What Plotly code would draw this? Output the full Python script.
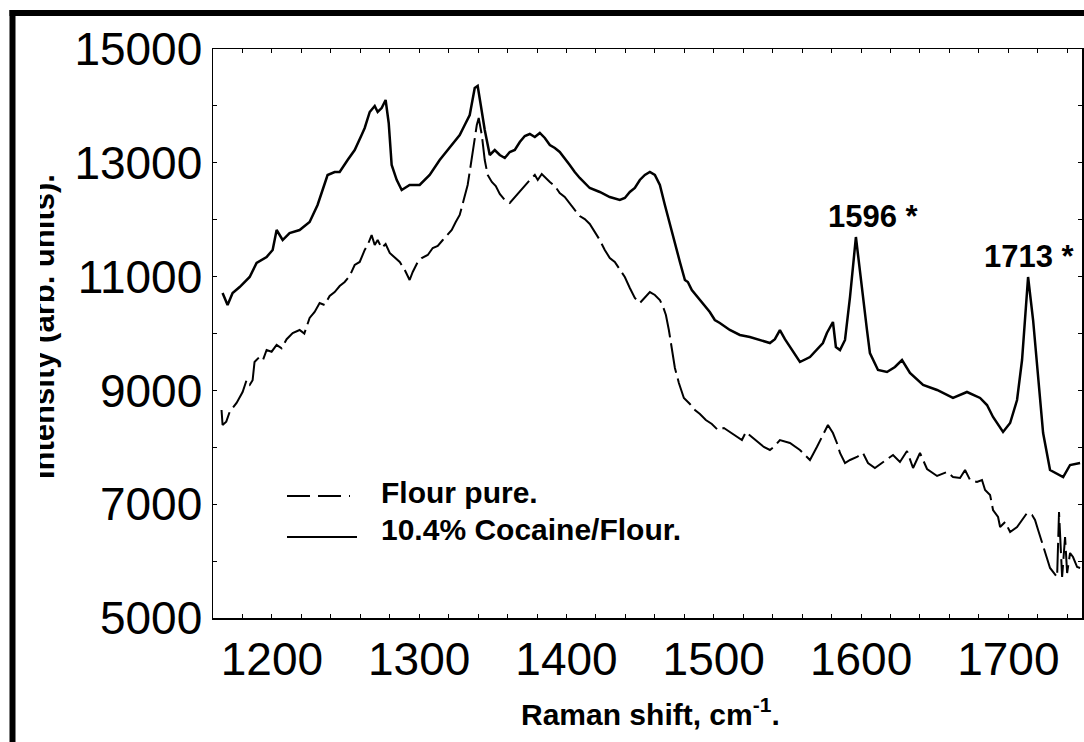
import plotly.graph_objects as go

# ---------------- data (Raman shift in cm^-1, intensity in arb. units) ----------------
flour_shift = [
    1165.8, 1166.5, 1169.0, 1171.3, 1176.0, 1180.1, 1182.8, 1185.0, 1186.9, 1188.2,
    1191.6, 1194.0, 1196.4, 1199.8, 1203.2, 1206.6, 1210.0, 1214.1, 1218.8, 1222.0,
    1225.6, 1229.0, 1232.4, 1235.8, 1239.2, 1242.6, 1246.0, 1249.4, 1252.8, 1256.2,
    1259.6, 1263.0, 1265.0, 1267.7, 1269.8, 1271.8, 1274.5, 1277.2, 1280.0, 1283.4,
    1286.8, 1290.2, 1293.5, 1295.6, 1299.0, 1301.7, 1305.8, 1309.2, 1312.6, 1316.0,
    1319.4, 1322.1, 1324.8, 1327.5, 1330.2, 1332.9, 1335.0, 1337.0, 1339.1, 1340.4,
    1342.5, 1344.5, 1346.5, 1349.3, 1352.0, 1354.7, 1358.1, 1361.5, 1364.9, 1368.3,
    1371.7, 1375.1, 1378.5, 1380.5, 1383.2, 1385.9, 1388.7, 1392.1, 1395.4, 1398.8,
    1402.2, 1405.6, 1409.0, 1412.4, 1415.8, 1419.2, 1422.6, 1426.0, 1429.4, 1432.8,
    1436.2, 1439.6, 1443.0, 1446.4, 1449.8, 1453.2, 1456.6, 1460.0, 1463.4, 1465.4,
    1467.5, 1469.5, 1471.5, 1473.6, 1476.3, 1479.7, 1483.8, 1487.2, 1490.6, 1494.6,
    1498.7, 1502.8, 1506.9, 1510.9, 1515.0, 1519.1, 1521.8, 1525.9, 1530.0, 1534.0,
    1538.1, 1541.5, 1544.9, 1551.7, 1558.5, 1565.3, 1570.0, 1573.4, 1577.5, 1580.9,
    1583.6, 1585.7, 1589.1, 1592.5, 1597.2, 1601.3, 1604.7, 1609.4, 1614.9, 1621.7,
    1626.4, 1631.2, 1635.3, 1640.0, 1644.8, 1651.6, 1658.4, 1662.4, 1667.2, 1670.6,
    1674.0, 1678.7, 1682.1, 1684.2, 1687.6, 1689.6, 1693.0, 1694.4, 1697.8, 1701.2,
    1705.9, 1709.3, 1712.7, 1716.1, 1718.1, 1720.2, 1722.9, 1726.3, 1728.3, 1733.1,
    1734.4, 1736.5, 1738.5, 1739.9, 1741.9, 1743.9, 1746.7, 1748.7,
]
flour_intensity = [
    8656, 8392, 8450, 8620, 8780, 8970, 9180, 9100, 9180, 9500,
    9590, 9540, 9710, 9680, 9800, 9740, 9900, 10009, 10062, 10000,
    10273, 10378, 10536, 10501, 10659, 10729, 10835, 10905, 11011, 11204,
    11257, 11468, 11555, 11731, 11555, 11643, 11503, 11573, 11415, 11327,
    11257, 11116, 10940, 11081, 11257, 11327, 11380, 11503, 11538, 11643,
    11731, 11819, 11960, 12083, 12346, 12610, 12961, 13313, 13664, 13788,
    13489, 13049, 12786, 12663, 12592, 12452, 12346, 12294, 12399, 12487,
    12592, 12698, 12786, 12698, 12803, 12733, 12663, 12592, 12469, 12399,
    12276, 12171, 12065, 12012, 11925, 11784, 11643, 11468, 11327, 11257,
    11116, 10993, 10800, 10624, 10536, 10642, 10729, 10677, 10589, 10483,
    10325, 10062, 9745, 9394, 9130, 8867, 8761, 8656, 8585, 8480,
    8410, 8304, 8339, 8269, 8199, 8128, 8269, 8181, 8093, 8005,
    7953, 8023, 8128, 8076, 7953, 7777, 8005, 8181, 8392, 8251,
    8076, 7900, 7724, 7777, 7830, 7900, 7724, 7636, 7742, 7865,
    7742, 7935, 7636, 7900, 7619, 7496, 7566, 7478, 7461, 7601,
    7425, 7390, 7425, 7250, 7162, 6898, 6775, 6599, 6687, 6511,
    6599, 6722, 6845, 6810, 6722, 6547, 6318, 6072, 5879, 5721,
    6863, 5721, 6424, 5791, 6142, 6072, 5896, 5879,
]

cocaine_shift = [
    1166.5, 1169.9, 1173.3, 1178.1, 1184.9, 1189.6, 1196.4, 1200.5, 1203.2, 1207.3,
    1212.0, 1218.8, 1225.6, 1231.0, 1234.4, 1237.8, 1242.6, 1246.0, 1251.4, 1256.2,
    1260.9, 1263.0, 1266.4, 1269.8, 1271.8, 1274.5, 1277.2, 1279.3, 1281.3, 1284.7,
    1288.1, 1293.5, 1300.3, 1307.1, 1313.9, 1320.7, 1327.5, 1330.9, 1334.3, 1337.7,
    1339.7, 1341.8, 1344.5, 1347.9, 1351.3, 1354.7, 1358.1, 1361.5, 1364.9, 1368.3,
    1371.7, 1375.1, 1378.5, 1381.9, 1385.3, 1388.7, 1392.1, 1395.4, 1398.8, 1402.2,
    1405.6, 1409.0, 1415.8, 1422.6, 1429.4, 1436.2, 1439.6, 1443.0, 1446.4, 1449.8,
    1453.2, 1456.6, 1460.0, 1463.4, 1466.8, 1470.2, 1473.6, 1477.0, 1480.4, 1482.4,
    1485.1, 1490.6, 1494.0, 1497.3, 1500.7, 1504.1, 1510.9, 1517.7, 1524.5, 1531.3,
    1538.1, 1541.5, 1544.9, 1548.3, 1551.7, 1558.5, 1565.3, 1574.1, 1576.8, 1580.9,
    1582.9, 1585.7, 1589.1, 1592.5, 1596.5, 1600.6, 1604.0, 1606.0, 1611.5, 1617.6,
    1623.0, 1627.8, 1633.2, 1642.1, 1651.6, 1662.4, 1671.9, 1680.8, 1685.5, 1689.6,
    1696.4, 1701.2, 1705.9, 1709.3, 1713.4, 1716.8, 1720.2, 1723.6, 1728.3, 1737.2,
    1741.9, 1748.7,
]
cocaine_intensity = [
    10712, 10501, 10712, 10817, 10993, 11239, 11345, 11468, 11819, 11643,
    11766, 11819, 11960, 12258, 12522, 12786, 12838, 12838, 13049, 13225,
    13489, 13612, 13893, 13998, 13893, 13963, 14104, 13700, 12961, 12700,
    12522, 12610, 12610, 12786, 13049, 13260, 13489, 13664, 13840, 14315,
    14350, 14016, 13577, 13137, 13225, 13137, 13085, 13190, 13225, 13366,
    13471, 13506, 13454, 13524, 13436, 13313, 13260, 13190, 13085, 12961,
    12838, 12733, 12557, 12487, 12399, 12346, 12382, 12487, 12557, 12698,
    12786, 12838, 12786, 12610, 12258, 11907, 11555, 11257, 10940, 10905,
    10765, 10589, 10483, 10378, 10237, 10185, 10062, 9974, 9939, 9886,
    9833, 9900, 10060, 9900, 9763, 9499, 9587, 9833, 10009, 10202,
    9763, 9710, 9886, 10642, 11696, 10765, 10062, 9657, 9359, 9323,
    9411, 9534, 9306, 9095, 9007, 8867, 8972, 8867, 8743, 8533,
    8269, 8427, 8831, 9534, 10993, 10237, 9183, 8251, 7601, 7478,
    7689, 7724,
]

x_range = [1160, 1750]
y_range = [5000, 15000]
legend_labels = ["Flour pure.", "10.4% Cocaine/Flour."]
peak_labels = ["1596 *", "1713 *"]
peak_label_x = [1608.1, 1714.6]
peak_label_y = [12065, 11362]
x_title = "Raman shift, cm<sup>-1</sup>."
y_title = "Intensity (arb. units)."

FONT = "Liberation Sans, Arial, sans-serif"

# ---------------- layout geometry (pixels on the 1084x742 page) ----------------
W, H = 1084, 742
L, R, T, B = 213, 1082, 49, 618


def px(xp):
    return (xp - L) / (R - L)


def py(yp):
    return (B - yp) / (B - T)


fig = go.Figure()
fig.add_trace(go.Scatter(
    x=flour_shift, y=flour_intensity, mode="lines",
    line=dict(color="black", width=2, dash="30px,6px"),
    name=legend_labels[0], showlegend=False, hoverinfo="skip",
))
fig.add_trace(go.Scatter(
    x=cocaine_shift, y=cocaine_intensity, mode="lines",
    line=dict(color="black", width=2.5),
    name=legend_labels[1], showlegend=False, hoverinfo="skip",
))

axis_common = dict(
    showgrid=False, zeroline=False, showline=True, linecolor="black",
    linewidth=1.5, mirror="allticks", ticks="inside", ticklen=4,
    tickwidth=1, tickcolor="black", tickformat="d",
    tickfont=dict(family=FONT, size=46, color="black"),
    automargin=False,
)

fig.update_layout(
    width=W, height=H,
    margin=dict(l=L, r=W - R, t=T, b=H - B, pad=0),
    paper_bgcolor="white", plot_bgcolor="white",
    showlegend=False,
    xaxis=dict(range=x_range, tick0=1200, dtick=100, ticklabelstandoff=0,
               minor=dict(dtick=20, ticks="inside", ticklen=4,
                          tickcolor="black", tickwidth=1, showgrid=False),
               **axis_common),
    yaxis=dict(range=y_range, tick0=5000, dtick=2000, ticklabelstandoff=0,
               minor=dict(dtick=1000, ticks="inside", ticklen=4,
                          tickcolor="black", tickwidth=1, showgrid=False),
               **axis_common),
)

shapes = [
    # outer frame: top and left thick bars
    dict(type="rect", xref="paper", yref="paper", x0=px(9.5), x1=px(1090),
         y0=py(16), y1=py(10), fillcolor="black", line=dict(width=0)),
    dict(type="rect", xref="paper", yref="paper", x0=px(9.5), x1=px(15.5),
         y0=py(750), y1=py(10), fillcolor="black", line=dict(width=0)),
    # legend samples
    dict(type="line", xref="paper", yref="paper", x0=px(287), x1=px(350),
         y0=py(496), y1=py(496), line=dict(color="black", width=2, dash="23px,8px")),
    dict(type="line", xref="paper", yref="paper", x0=px(287), x1=px(357),
         y0=py(537), y1=py(537), line=dict(color="black", width=2)),
]
fig.update_layout(shapes=shapes)

bold = dict(family=FONT, size=30, color="black")
annotations = [
    dict(text="<b>%s</b>" % legend_labels[0], xref="paper", yref="paper",
         x=px(379), y=py(492), xanchor="left", yanchor="middle",
         showarrow=False, font=bold),
    dict(text="<b>%s</b>" % legend_labels[1], xref="paper", yref="paper",
         x=px(379), y=py(529), xanchor="left", yanchor="middle",
         showarrow=False, font=bold),
    dict(text="<b>%s</b>" % peak_labels[0], xref="x", yref="y",
         x=peak_label_x[0], y=peak_label_y[0], xanchor="center", yanchor="middle",
         showarrow=False, font=dict(family=FONT, size=31, color="black")),
    dict(text="<b>%s</b>" % peak_labels[1], xref="x", yref="y",
         x=peak_label_x[1], y=peak_label_y[1], xanchor="center", yanchor="middle",
         showarrow=False, font=dict(family=FONT, size=31, color="black")),
    dict(text="<b>%s</b>" % x_title, xref="paper", yref="paper",
         x=px(650), y=py(712), xanchor="center", yanchor="middle",
         showarrow=False, font=bold),
    dict(text="<b>%s</b>" % y_title, xref="paper", yref="paper",
         x=px(43), y=py(327), xanchor="center", yanchor="middle", textangle=-90,
         showarrow=False, font=dict(family=FONT, size=31, color="black")),
    # white mask that crops the left part of the y title (as in the reference)
    dict(text=" ", xref="paper", yref="paper", x=px(15.5), y=py(327),
         xanchor="left", yanchor="middle", width=24, height=380,
         bgcolor="white", borderpad=0, borderwidth=0, showarrow=False),
]
fig.update_layout(annotations=annotations)

fig.write_html(
    "out.html",
    config={"displayModeBar": False, "staticPlot": True},
    post_script="document.body.style.margin='0';document.body.style.overflow='hidden';",
)
